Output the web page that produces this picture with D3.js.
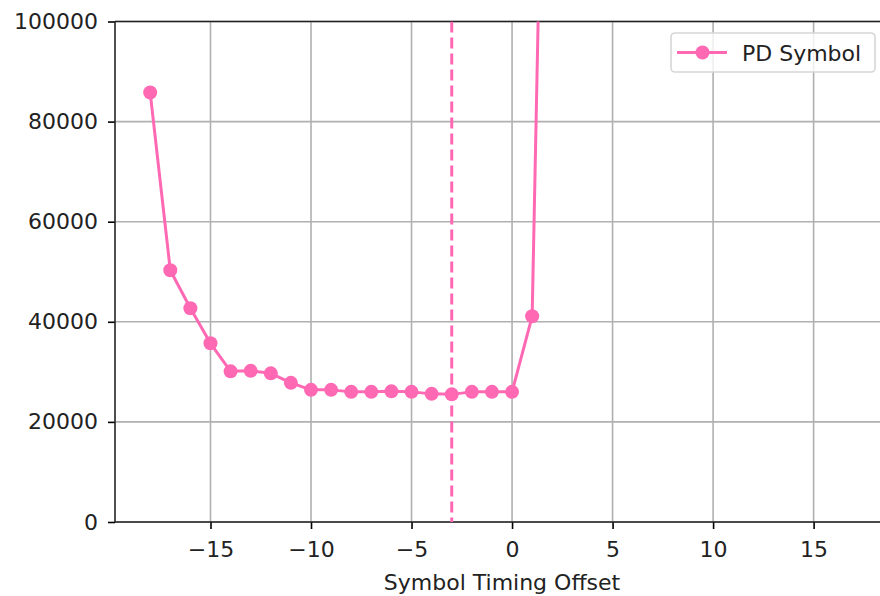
<!DOCTYPE html>
<html>
<head>
<meta charset="utf-8">
<script src="https://cdn.jsdelivr.net/npm/d3@7"></script>
<style>
  html, body { margin: 0; padding: 0; background: #fff; }
  svg { display: block; font-family: "DejaVu Sans", sans-serif; }
</style>
</head>
<body>
<svg id="chart" width="880" height="596"></svg>
<script>
// Symbol timing offsets and the measured PD symbol metric at each offset
const offsets = [-18, -17, -16, -15, -14, -13, -12, -11, -10, -9, -8, -7, -6, -5, -4, -3, -2, -1, 0, 1, 2];
const pdSymbol = [85800, 50300, 42700, 35700, 30100, 30200, 29700, 27800, 26400, 26400, 26000, 26000, 26100, 26000, 25600, 25500, 26000, 26000, 26000, 41100, 240000];
const chosenOffset = -3;
const xTicks = [-15, -10, -5, 0, 5, 10, 15];
const yTicks = [0, 20000, 40000, 60000, 80000, 100000];
const xDomain = [-19.75, 18.75];
const yDomain = [0, 100000];

const color = "#ff69b4";
const svg = d3.select("#chart");
const pLeft = 115, pRight = 889, pTop = 21.5, pBottom = 522;

const x = d3.scaleLinear().domain(xDomain).range([pLeft, pRight]);
const y = d3.scaleLinear().domain(yDomain).range([pBottom, pTop]);

svg.append("defs").append("clipPath").attr("id", "plotClip")
  .append("rect").attr("x", pLeft).attr("y", pTop).attr("width", pRight - pLeft).attr("height", pBottom - pTop);

// grid
const grid = svg.append("g").attr("stroke", "#b0b0b0").attr("stroke-width", 1.6);
grid.selectAll("line.vx").data(xTicks).join("line")
  .attr("x1", d => x(d)).attr("x2", d => x(d)).attr("y1", pTop).attr("y2", pBottom);
grid.selectAll("line.hy").data(yTicks).join("line")
  .attr("x1", pLeft).attr("x2", pRight).attr("y1", d => y(d)).attr("y2", d => y(d));

// axes
const fontSize = 22;
const xAxis = svg.append("g").attr("transform", `translate(0,${pBottom})`)
  .call(d3.axisBottom(x).tickValues(xTicks).tickSize(7).tickPadding(12)
    .tickFormat(d => d < 0 ? "\u2212" + Math.abs(d) : String(d)));
const yAxis = svg.append("g").attr("transform", `translate(${pLeft},0)`)
  .call(d3.axisLeft(y).tickValues(yTicks).tickSize(7).tickPadding(10).tickFormat(d3.format("d")));
[xAxis, yAxis].forEach(g => {
  g.select(".domain").remove();
  g.selectAll(".tick line").attr("stroke", "#000").attr("stroke-width", 1.6);
  g.selectAll(".tick text").attr("fill", "#222").attr("font-size", fontSize)
    .attr("font-family", "DejaVu Sans, sans-serif");
});

// spines
const spine = (x1, y1, x2, y2) => svg.append("line")
  .attr("x1", x1).attr("y1", y1).attr("x2", x2).attr("y2", y2)
  .attr("stroke", "#222").attr("stroke-width", 1.6);
spine(pLeft, pTop, pLeft, pBottom);
spine(pLeft, pBottom, pRight, pBottom);
spine(pLeft, pTop, pRight, pTop);
spine(pRight, pTop, pRight, pBottom);

// data
const plot = svg.append("g").attr("clip-path", "url(#plotClip)");
const pts = offsets.map((o, i) => [o, pdSymbol[i]]);
plot.append("path").datum(pts)
  .attr("fill", "none").attr("stroke", color).attr("stroke-width", 3)
  .attr("stroke-linejoin", "round")
  .attr("d", d3.line().x(d => x(d[0])).y(d => y(d[1])));
plot.selectAll("circle").data(pts).join("circle")
  .attr("cx", d => x(d[0])).attr("cy", d => y(d[1])).attr("r", 7).attr("fill", color);

// chosen offset marker
plot.append("line").attr("x1", x(chosenOffset)).attr("x2", x(chosenOffset))
  .attr("y1", pTop).attr("y2", pBottom)
  .attr("stroke", color).attr("stroke-width", 3).attr("stroke-dasharray", "11,5");

// x label
svg.append("text").attr("x", (pLeft + pRight) / 2).attr("y", 590)
  .attr("text-anchor", "middle").attr("font-size", fontSize).attr("fill", "#222")
  .text("Symbol Timing Offset");

// legend
const lg = svg.append("g");
lg.append("rect").attr("x", 671).attr("y", 33).attr("width", 204).attr("height", 39).attr("rx", 4)
  .attr("fill", "#fff").attr("fill-opacity", 0.8).attr("stroke", "#d6d6d6").attr("stroke-width", 1.6);
lg.append("line").attr("x1", 677).attr("x2", 727).attr("y1", 52.5).attr("y2", 52.5)
  .attr("stroke", color).attr("stroke-width", 3);
lg.append("circle").attr("cx", 702.5).attr("cy", 52.5).attr("r", 7).attr("fill", color);
lg.append("text").attr("x", 742).attr("y", 61).attr("font-size", fontSize).attr("fill", "#222")
  .text("PD Symbol");
</script>
</body>
</html>
